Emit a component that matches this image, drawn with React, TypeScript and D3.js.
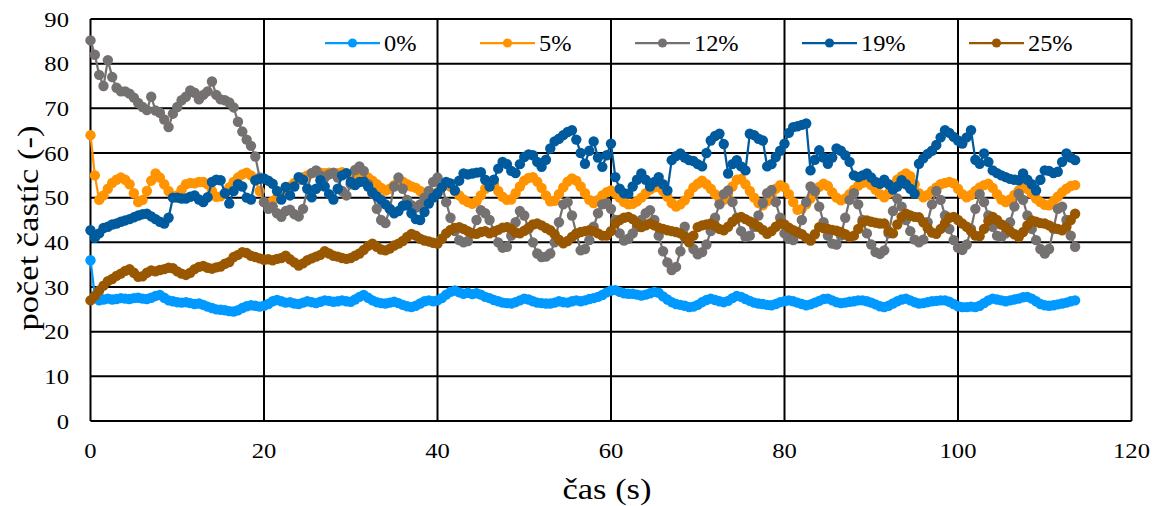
import React from "react";
import * as d3 from "d3";

// Sampling interval of the recorded particle counts (s)
const STEP = 0.5;

const xTicks = [0, 20, 40, 60, 80, 100, 120];
const yTicks = [0, 10, 20, 30, 40, 50, 60, 70, 80, 90];

const seriesNames = ["0%", "5%", "12%", "19%", "25%"];
const seriesColors = ["#0099FF", "#FF9300", "#767171", "#005A9E", "#995700"];

// Particle counts, one value per 0.5 s, 0 – 113.5 s
const s0 = [
  36, 28, 27, 27.2, 27.4, 27.2, 27.3, 27.5, 27.4, 27.3, 27.5, 27.6, 27.4, 27.3, 27.6, 28, 28.2, 27.6, 27, 26.8,
  26.6, 26.5, 26.6, 26.4, 26.2, 26.3, 26, 25.6, 25.3, 25, 24.9, 24.8, 24.6, 24.5, 24.8, 25.3, 25.7, 25.9, 25.8, 25.6,
  25.8, 26.2, 26.8, 27.1, 26.8, 26.5, 26.6, 26.3, 26.2, 26.5, 26.8, 26.6, 26.4, 26.7, 27, 26.9, 26.7, 26.8, 27, 26.8,
  26.7, 27.2, 27.8, 28.2, 27.6, 27, 26.6, 26.4, 26.3, 26.5, 26.7, 26.4, 26, 25.7, 25.5, 25.8, 26.3, 26.8, 27, 26.8,
  27, 27.5, 28.3, 28.9, 29.2, 28.8, 28.5, 28.7, 28.4, 28.6, 28.3, 27.8, 27.5, 27.1, 26.8, 26.5, 26.4, 26.3, 26.6, 27,
  27.4, 27.2, 26.8, 26.5, 26.4, 26.3, 26.3, 26.5, 26.8, 26.6, 26.5, 26.8, 27, 26.8, 27, 27.3, 27.5, 27.8, 28.2, 28.8,
  29.2, 29.3, 28.9, 28.6, 28.5, 28.5, 28.3, 28.1, 28.3, 28.6, 28.9, 28.7, 27.9, 27.2, 26.6, 26.2, 26, 25.8, 25.5, 25.6,
  26, 26.6, 27.1, 27.4, 27.1, 26.8, 26.6, 26.9, 27.5, 28, 27.8, 27.3, 26.9, 26.5, 26.3, 26.2, 26, 25.9, 26.2, 26.6,
  26.8, 27, 26.8, 26.5, 26.2, 25.9, 26.1, 26.5, 26.9, 27.3, 27.4, 27, 26.6, 26.4, 26.5, 26.7, 26.8, 27, 27, 26.8,
  26.5, 26.1, 25.7, 25.5, 25.8, 26.3, 26.8, 27.2, 27.4, 27, 26.6, 26.3, 26.4, 26.6, 26.8, 26.9, 27, 27, 26.7, 26.2,
  25.7, 25.5, 25.5, 25.6, 25.5, 25.8, 26.4, 27, 27.4, 27.2, 27, 26.8, 27, 27.2, 27.4, 27.7, 27.8, 27.4, 26.8, 26.2,
  25.9, 25.8, 25.9, 26.1, 26.3, 26.5, 26.8, 27,
];

const s5 = [
  64, 55, 49.5, 50.5, 52, 53.3, 54, 54.5, 54, 53, 51, 49, 49.5, 51.5, 53.8, 55.4, 54.5, 53, 51.5, 50.3,
  50.5, 51.8, 53, 53.3, 53.2, 53.5, 53.5, 53, 51.5, 50.2, 50.3, 51, 52.3, 53.5, 54.5, 55.2, 55.6, 55, 53.9, 51.5,
  49, 48.8, 49.2, 50, 51, 51.8, 52.5, 53.3, 54, 54.6, 55, 55.5, 55.7, 55.6, 55.5, 55.6, 55.4, 55.5, 55.7, 55.3,
  55, 55.3, 55.6, 55.2, 54.5, 53.8, 53, 52.2, 51.6, 52, 52.8, 53.5, 53.6, 53, 52.5, 52.2, 51.5, 50.5, 49.6, 50.2,
  51.2, 52.3, 53, 52.5, 51.5, 50.5, 49.6, 49, 48.6, 49.2, 50.5, 52, 53.5, 53, 51.5, 50.2, 49.5, 49.6, 51, 52.5,
  53.8, 54.4, 54.6, 53.6, 52.2, 50.5, 49.2, 49.3, 50.8, 52.3, 53.6, 54.3, 53.8, 52.5, 51, 49.5, 48.8, 49.5, 50.5, 51.2,
  51.6, 51, 50, 49, 48.5, 48.6, 49.2, 50, 51, 51.8, 52.3, 52.4, 51.5, 50.2, 48.8, 48, 48.5, 49.4, 50.9, 52.3,
  53.1, 53.8, 53, 52, 50.8, 49.8, 49.5, 50.8, 52.5, 54, 54.2, 53, 51.5, 50, 48.8, 48.3, 49.2, 50.6, 52, 52.8,
  52.3, 50.8, 49, 47.3, 47.5, 48.5, 49.8, 51.2, 52.4, 53.1, 52.6, 51.2, 50, 49.4, 49.8, 50.8, 51.8, 52.7, 53.3, 53.5,
  52.8, 51.8, 50.8, 50.1, 51, 52.5, 54, 54.8, 55.4, 54.8, 53, 51, 50.1, 50.6, 51.5, 52.3, 53, 53.3, 53.5, 53.2,
  52, 50.8, 50.1, 50.6, 51.5, 52.3, 52.8, 53.1, 52.2, 50.8, 49.6, 49, 49.6, 50.6, 51.6, 52.4, 52, 50.9, 49.8, 49,
  48.4, 48.3, 49.2, 50.2, 51.2, 52, 52.6, 52.8,
];

const s12 = [
  85.2, 82, 77.5, 75, 80.8, 77, 74.6, 73.8, 73.8, 73.3, 72.4, 71.2, 70.3, 69.6, 72.6, 69.5, 69, 67.5, 65.8, 68.8,
  70.3, 71.8, 72.6, 74, 73.5, 72, 73, 73.8, 76, 73, 72, 71.8, 71.3, 70.2, 67, 64.8, 63, 61.6, 59.2, 54.5,
  49, 47.5, 48, 46.5, 45.7, 47, 47.3, 46.3, 45.8, 47.5, 52, 55.5, 56.1, 55, 54.5, 55.2, 55.6, 54.5, 51.5, 50.5,
  53, 56.2, 57, 56, 53, 51, 47.5, 45, 44.3, 47.5, 52.5, 54.5, 52, 49.5, 48.3, 47.8, 48.5, 50, 51.5, 53.5,
  54.5, 53, 49, 45.5, 42.5, 40.5, 40, 40.3, 42, 45, 47.2, 46.5, 45, 42.5, 40, 38.8, 39, 41.5, 44.5, 47,
  46, 43, 40, 37.5, 36.7, 36.8, 37.5, 40, 44.5, 48.5, 49, 46, 42, 38.2, 38.5, 40.5, 43.5, 46.5, 48.5, 48.7,
  47.5, 45, 42, 40.4, 40.8, 42, 43.5, 45, 46.5, 47.2, 45, 41.5, 38, 35.5, 33.8, 34.5, 38, 43.5, 41, 38.5,
  37.3, 37.8, 39.5, 42.5, 45.5, 48.5, 50.8, 51.6, 49, 45.5, 42.5, 41.2, 41.5, 43.5, 46, 48.8, 51, 51.7, 49, 45.5,
  42, 40.8, 40.5, 42, 45, 49, 52.5, 51.5, 48, 44.5, 41.5, 39.7, 39.5, 41.5, 45.5, 49.5, 51, 48.5, 45, 42,
  39.5, 37.8, 37.4, 38.2, 42, 47, 49.8, 48, 45, 42.5, 40.6, 40, 40.6, 44.5, 48.5, 51.5, 49.5, 46, 43, 40.5,
  38.8, 38.3, 39.5, 43, 47.5, 50.8, 49, 46, 43.5, 41.5, 41.2, 42, 44.5, 48, 50.9, 49.5, 46, 43, 40.5, 38.5,
  37.5, 38.5, 43, 47.5, 48, 45, 41.5, 39,
];

const s19 = [
  42.7, 41, 42, 43.2, 43.5, 44, 44.2, 44.6, 44.9, 45.2, 45.6, 46, 46.3, 46.4, 45.8, 45.2, 44.6, 44.2, 45.5, 50,
  50, 49.8, 49.8, 50.2, 50.5, 49.6, 49, 50.1, 53.5, 54, 53.9, 51, 48.7, 51.5, 53, 52.5, 50, 49.6, 53.9, 54.2,
  54.3, 53.8, 53.1, 51.5, 49.6, 52.4, 50.5, 52.5, 54.6, 54, 52, 50.1, 52, 53.9, 52.5, 50.8, 49.6, 52, 55, 55.5,
  53.5, 52.8, 53.5, 53.6, 52.5, 51.2, 50.3, 49.5, 48.5, 47.5, 46.5, 47, 48.2, 48.3, 46.5, 45.2, 45, 46.8, 48.7, 50,
  51, 52.3, 53.5, 53.2, 51.6, 53.8, 55.4, 55.2, 55.4, 55.6, 55.7, 54, 52.5, 54, 56.5, 58, 57.5, 56, 55.5, 57.5,
  59.1, 59.7, 59.5, 58, 56.9, 58.5, 61, 62.6, 63.2, 64, 64.7, 65.1, 63, 60, 57.6, 60.5, 62.6, 59, 56.9, 59.5,
  62.1, 54.6, 52, 51, 50.9, 52.5, 54, 55.4, 54, 52.5, 53.5, 54.6, 53, 51.6, 58.4, 59.3, 59.9, 59, 58.4, 58.2,
  57.5, 57, 60, 62.8, 63.8, 64.3, 62, 55.4, 57.5, 58.4, 57, 56.1, 64.3, 64, 63.2, 62.8, 57, 57.5, 59.1, 60.5,
  62.1, 64.5, 65.8, 66, 66.3, 66.6, 56.1, 58.5, 60.6, 59, 57.6, 59, 61, 60.5, 59.5, 58, 55, 54.6, 55, 55.4,
  54.5, 53.5, 53.1, 54, 53, 51.8, 52.5, 53.9, 53, 52, 50.9, 57.6, 58.8, 59.8, 60.5, 61.8, 63.5, 65.1, 64.5, 63.6,
  62.8, 62.1, 63.5, 65.1, 58.5, 57.6, 59.9, 58, 56.1, 55.5, 55, 54.6, 54.2, 54, 53.9, 55.4, 54, 53, 51.6, 54,
  56.1, 56, 55.5, 55.8, 58, 59.9, 59, 58.4,
];

const s25 = [
  27, 28, 29.2, 30.3, 31.3, 31.8, 32.5, 33, 33.6, 34, 33.2, 32.3, 32.4, 33.2, 33.7, 33.5, 33.8, 34, 34.3, 34.2,
  33.5, 33, 32.7, 33.2, 34, 34.5, 34.7, 34.3, 34.1, 34.4, 34.6, 35.2, 35.6, 36.7, 37.2, 37.8, 37.6, 37, 36.7, 36.4,
  36.1, 36.2, 36, 36.3, 36.5, 37, 36.2, 35.5, 34.8, 35.3, 36, 36.4, 36.8, 37.2, 38, 37.5, 37, 36.8, 36.5, 36.3,
  36.5, 37, 37.5, 38.3, 39.2, 39.7, 39, 38.4, 38.2, 38.6, 39.3, 39.7, 40.3, 41.2, 41.9, 41.5, 40.8, 40.4, 40.2, 39.9,
  39.7, 40.8, 42, 42.8, 43.2, 43.4, 43, 42.5, 42, 41.9, 42.3, 42.5, 42, 42.3, 42.8, 43.3, 43.4, 43, 42.2, 42,
  42.6, 43.3, 44, 44.2, 43.8, 43.2, 42.7, 41.8, 40.6, 39.8, 40.3, 41.2, 41.9, 42.3, 42.5, 42.7, 42.5, 42, 41.5, 41.5,
  42.5, 44.2, 45, 45.5, 45.7, 45.2, 44.3, 43.4, 43.8, 44.2, 43.8, 43.3, 43, 42.7, 42.5, 42.3, 42, 41.2, 40, 41.5,
  43.4, 43.8, 44, 44.2, 43.7, 43, 42.7, 43.5, 44.6, 45.3, 45.7, 45.2, 44.7, 44.2, 43.5, 42.8, 41.9, 42.5, 43.5, 44.2,
  44, 43.3, 42.7, 42.3, 41.8, 41, 40.4, 41.8, 43.4, 43.2, 43, 42.8, 42.6, 42.3, 41.8, 41.2, 41.5, 43, 44.5, 44.9,
  44.6, 44.4, 44.2, 44.2, 42.5, 42, 44, 45.7, 46.4, 46, 45.7, 45.6, 44.5, 43.2, 42.2, 41.9, 43, 44.3, 45.5, 45.7,
  45, 44.2, 43.5, 42.5, 41.5, 41.4, 43, 44.8, 45.7, 45, 44, 43.4, 42.5, 41.8, 41.2, 42.3, 43.8, 44.9, 44.6, 44.3,
  44.2, 43.8, 43.3, 43, 42.7, 43.5, 45, 46.4,
];

const seriesValues = [s0, s5, s12, s19, s25];

const W = 1160;
const H = 506;
const FONT = "Liberation Serif, DejaVu Serif, serif";
// Glyphs in this chart's typeface run somewhat wider than Liberation Serif
const TICK_STRETCH = 1.12;
const TITLE_STRETCH = 1.15;

export default function App() {
  const x = d3.scaleLinear().domain([0, 120]).range([90.5, 1131.5]);
  const y = d3.scaleLinear().domain([0, 90]).range([421, 19]);

  const line = d3
    .line<number>()
    .x((_, i) => x(i * STEP))
    .y((v) => y(v));

  const legendX = [325, 480, 635, 802, 969];
  const legendY = 43;

  return (
    <svg
      width={W}
      height={H}
      style={{ position: "absolute", left: 0, top: 0, background: "#fff" }}
      fontFamily={FONT}
    >
      {/* grid */}
      <g stroke="#000" strokeWidth={2}>
        {yTicks.map((t) => (
          <line key={"h" + t} x1={x(0)} x2={x(120)} y1={y(t)} y2={y(t)} />
        ))}
        {xTicks.map((t) => (
          <line key={"v" + t} x1={x(t)} x2={x(t)} y1={y(0)} y2={y(90)} />
        ))}
      </g>

      {/* tick labels */}
      <g fontFamily={FONT} fontSize={22} fill="#000">
        {yTicks.map((t) => (
          <text
            key={"yl" + t}
            transform={`translate(69,${y(t) + 7.5}) scale(${TICK_STRETCH},1)`}
            textAnchor="end"
          >
            {t}
          </text>
        ))}
        {xTicks.map((t) => (
          <text
            key={"xl" + t}
            transform={`translate(${x(t)},458) scale(${TICK_STRETCH},1)`}
            textAnchor="middle"
          >
            {t}
          </text>
        ))}
      </g>

      {/* axis titles */}
      <text
        transform={`translate(607,499) scale(${TITLE_STRETCH},1)`}
        textAnchor="middle"
        fontFamily={FONT}
        fontSize={30}
        fill="#000"
      >
        čas (s)
      </text>
      <text
        transform={`translate(38,228) rotate(-90) scale(${TITLE_STRETCH},1)`}
        textAnchor="middle"
        fontFamily={FONT}
        fontSize={30}
        fill="#000"
      >
        počet častíc (-)
      </text>

      {/* series */}
      {seriesValues.map((vals, si) => (
        <g key={"s" + si}>
          <path d={line(vals) || ""} fill="none" stroke={seriesColors[si]} strokeWidth={2.25} />
          {vals.map((v, i) => (
            <circle key={i} cx={x(i * STEP)} cy={y(v)} r={5.2} fill={seriesColors[si]} />
          ))}
        </g>
      ))}

      {/* legend */}
      {seriesNames.map((n, i) => (
        <g key={"lg" + n}>
          <line
            x1={legendX[i]}
            x2={legendX[i] + 55}
            y1={legendY}
            y2={legendY}
            stroke={seriesColors[i]}
            strokeWidth={2.25}
          />
          <circle cx={legendX[i] + 27.5} cy={legendY} r={4.6} fill={seriesColors[i]} />
          <text
            transform={`translate(${legendX[i] + 59},${legendY + 7.5}) scale(1.06,1)`}
            fontFamily={FONT}
            fontSize={23}
            fill="#000"
          >
            {n}
          </text>
        </g>
      ))}
    </svg>
  );
}
